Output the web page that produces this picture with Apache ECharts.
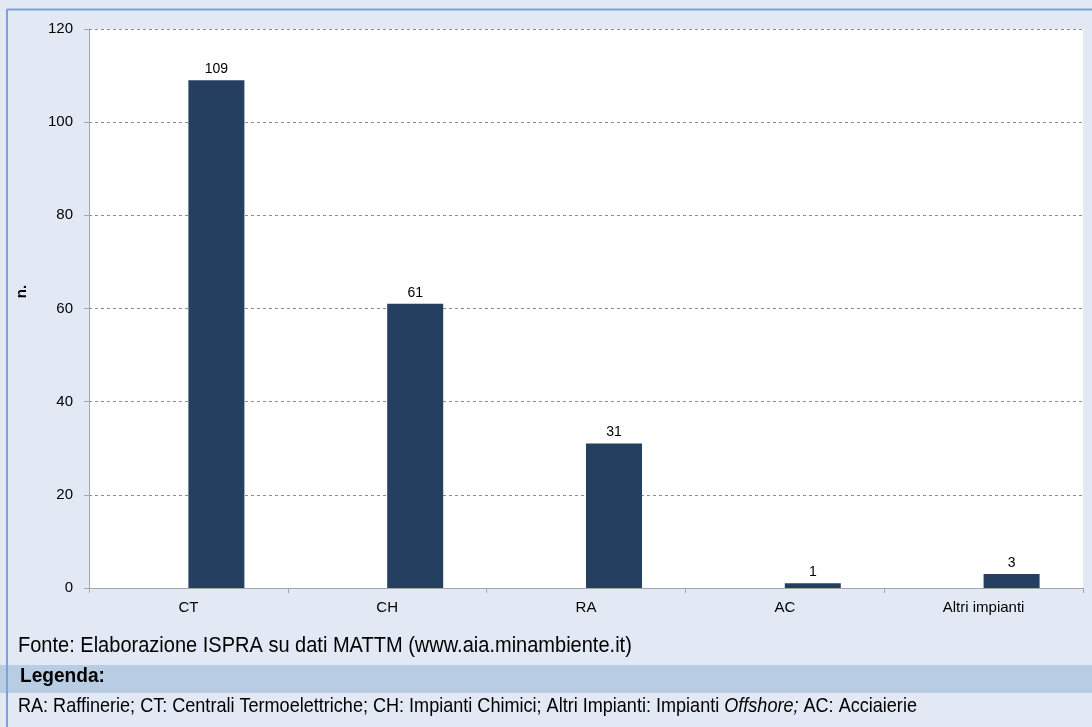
<!DOCTYPE html>
<html><head><meta charset="utf-8">
<script src="https://cdn.jsdelivr.net/npm/echarts@6/dist/echarts.min.js"></script>
<style>html,body{margin:0;padding:0;background:#e2e9f4}#c{width:1092px;height:727px}</style>
</head><body><div id="c"></div>
<script>
const categories = ['CT', 'CH', 'RA', 'AC', 'Altri impianti'];
const values = [109, 61, 31, 1, 3];
// Excel-style empty first series slot (bars sit right of the category centre)
const emptySlot = [null, null, null, null, null];
const yTicks = [0, 20, 40, 60, 80, 100, 120];
const axisName = 'n.';
const sourceText = 'Fonte: Elaborazione ISPRA su dati MATTM (www.aia.minambiente.it)';
const legendTitle = 'Legenda:';

const chart = echarts.init(document.getElementById('c'));
const font = '"Liberation Sans", Arial, sans-serif';
chart.setOption({
  backgroundColor: '#e2e9f4',
  animation: false,
  textStyle: { fontFamily: font },
  grid: { left: 89, right: 9, top: 29, bottom: 139, show: true, backgroundColor: '#ffffff', borderWidth: 0 },
  xAxis: {
    type: 'category', data: categories,
    axisLine: { lineStyle: { color: '#a6a6a6' } },
    axisTick: { show: true, alignWithLabel: false, length: 5, lineStyle: { color: '#a6a6a6' } },
    axisLabel: { color: '#000', fontSize: 15, margin: 12, fontFamily: font }
  },
  yAxis: {
    type: 'value', min: yTicks[0], max: yTicks[yTicks.length - 1], interval: 20,
    name: axisName, nameLocation: 'middle', nameGap: 60, nameRotate: 90,
    nameTextStyle: { fontWeight: 'bold', fontSize: 15, color: '#000', fontFamily: font, padding: [0, 0, 0, 34] },
    axisLine: { show: true, lineStyle: { color: '#a6a6a6' } },
    axisTick: { show: true, length: 5, lineStyle: { color: '#a6a6a6' } },
    axisLabel: { color: '#000', fontSize: 15, margin: 16, fontFamily: font },
    splitLine: { lineStyle: { color: '#8c8c8c', type: [3, 3], width: 1 } }
  },
  series: [
    { type: 'bar', data: emptySlot, barWidth: 56, barGap: '0%', silent: true },
    {
      type: 'bar', data: values, barWidth: 56, barGap: '0%',
      itemStyle: { color: '#243f60' },
      label: { show: true, position: 'top', color: '#000', fontSize: 14, distance: 4, fontFamily: font }
    }
  ],
  graphic: [
    { type: 'rect', silent: true, z: -1, shape: { x: 0, y: 665, width: 1092, height: 28 }, style: { fill: '#b8cce4' } },
    { type: 'line', silent: true, shape: { x1: 7, y1: 9.5, x2: 1092, y2: 9.5 }, style: { stroke: '#7ea3d6', lineWidth: 2 } },
    { type: 'line', silent: true, shape: { x1: 7, y1: 9, x2: 7, y2: 727 }, style: { stroke: '#7ea3d6', lineWidth: 2 } },
    { type: 'text', x: 18, y: 646, scaleX: 0.91, style: { text: sourceText, font: '22px ' + font, fill: '#000', verticalAlign: 'middle' } },
    { type: 'text', x: 20, y: 676, scaleX: 0.955, style: { text: legendTitle, font: 'bold 20px ' + font, fill: '#000', verticalAlign: 'middle' } },
    { type: 'text', x: 18, y: 706, scaleX: 0.86, style: {
      verticalAlign: 'middle',
      text: '{n|RA: Raffinerie; CT: Centrali Termoelettriche; CH: Impianti Chimici; Altri Impianti: Impianti }{i|Offshore;}{n| AC: Acciaierie}',
      rich: { n: { font: '21px ' + font, fill: '#000' }, i: { font: 'italic 21px ' + font, fill: '#000' } }
    } }
  ]
});
</script></body></html>
